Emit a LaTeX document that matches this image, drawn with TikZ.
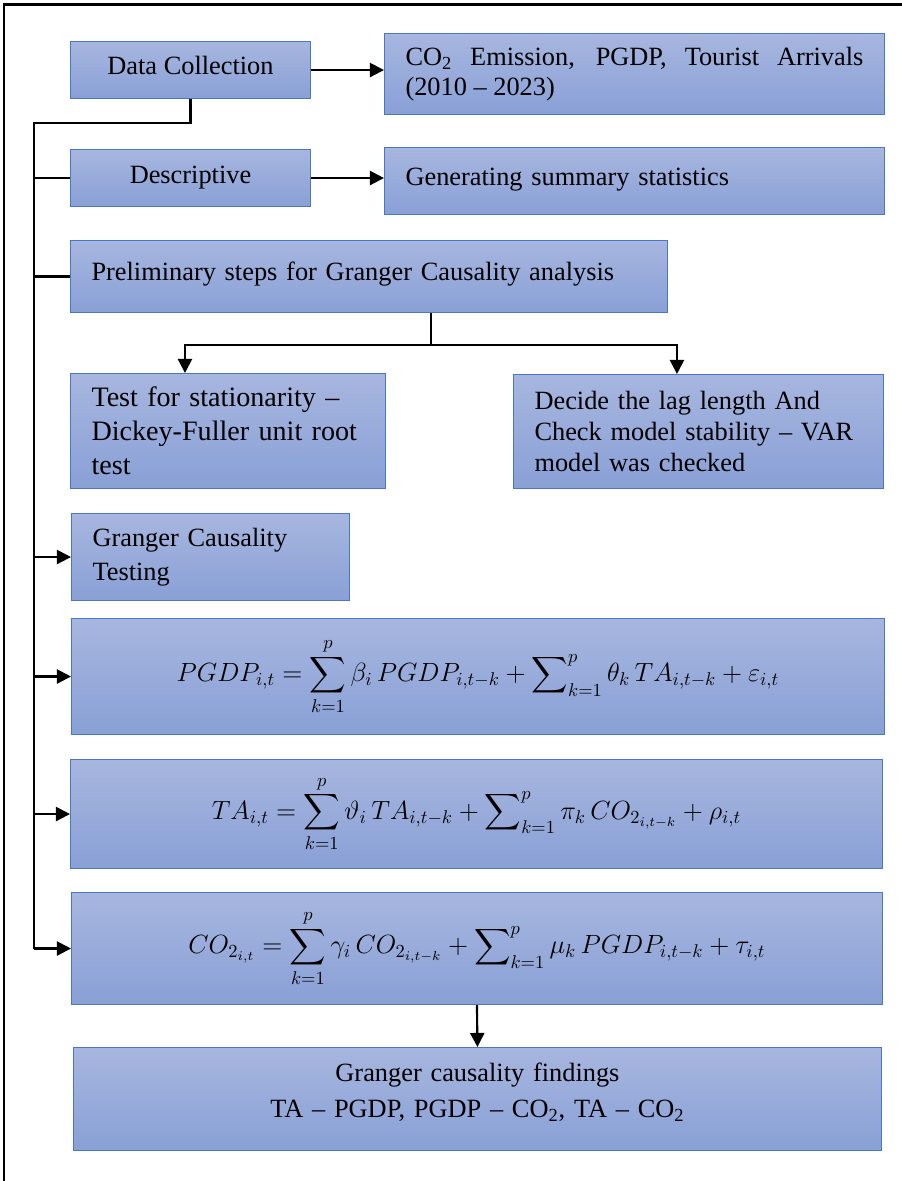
\documentclass[tikz,border=0pt]{standalone}
\usepackage{fix-cm}
\usepackage{amsmath}
\usepackage{fontspec}
\setmainfont{Liberation Serif}
\usepackage{tikz}
\usetikzlibrary{arrows.meta, positioning}

\definecolor{boxtop}{RGB}{167,182,223}
\definecolor{boxbot}{RGB}{137,160,214}
\definecolor{boxline}{RGB}{72,118,200}

\newcommand{\bigsum}{\mathop{\displaystyle\sum}\nolimits}

\begin{document}
\begin{tikzpicture} [x=0.02cm, y=-0.02cm,
    box/.style = {draw=boxline, line width=0.6pt, top color=boxtop, bottom color=boxbot,
                  anchor=north west, inner xsep=0.42cm, inner ysep=0pt,
                  font=\fontsize{15}{18}\selectfont},
    line/.style = {line width=1.2pt},
    arr/.style = {line width=1.2pt, -{Triangle[length=8pt, width=8pt]}}]
    \useasboundingbox (0,0) rectangle (902,1181);
    \draw [line width=1.7pt] (4,1181) -- (4,4) -- (902,4);

    \node (dc) [box, align=center, minimum width=4.8cm, minimum height=1.14cm] at (70,41) {Data Collection\\[-13pt]\mbox{}};
    \node (co2) [box, text width=9.16cm, align=justify, minimum height=1.62cm,
        font=\fontsize{15}{17}\selectfont] at (384,33)
        {CO\textsubscript{2} Emission, PGDP, Tourist Arrivals\linebreak (2010 – 2023)};
    \node (desc) [box, align=center, minimum width=4.8cm, minimum height=1.14cm] at (70,149) {Descriptive};
    \node (gen) [box, text width=9.16cm, align=left, minimum height=1.34cm] at (384,147)
        {Generating summary statistics\\[-13pt]\mbox{}};
    \node (prelim) [box, text width=11.1cm, align=left, minimum height=1.44cm] at (70,240)
        {Preliminary steps for Granger Causality analysis\\[-12pt]\mbox{}};
    \node (stat) [box, text width=5.46cm, align=left, minimum height=2.3cm,
        font=\fontsize{16}{19.3}\selectfont] at (70,373)
        {Test for stationarity –\\ Dickey-Fuller unit root\\ test};
    \node (lag) [box, text width=6.56cm, align=left, minimum height=2.28cm,
        font=\fontsize{15}{17.4}\selectfont] at (513,374)
        {Decide the lag length And\\ Check model stability – VAR\\ model was checked};
    \node (gct) [box, text width=4.72cm, align=left, minimum height=1.74cm,
        font=\fontsize{15}{19.3}\selectfont] at (71,513) {Granger Causality\\ Testing};

    \node (eqa) [box, align=center, minimum width=16.26cm, minimum height=2.32cm] at (71,618)
        {$\displaystyle PGDP_{i,t} = \sum_{k=1}^{p} \beta_i\, PGDP_{i,t-k} + \bigsum_{k=1}^{p} \theta_k\, TA_{i,t-k} + \varepsilon_{i,t}$};
    \node (eqb) [box, align=center, minimum width=16.24cm, minimum height=2.18cm] at (70,759)
        {$\displaystyle TA_{i,t} = \sum_{k=1}^{p} \vartheta_i\, TA_{i,t-k} + \bigsum_{k=1}^{p} \pi_k\, CO_{2_{i,t-k}} + \rho_{i,t}$};
    \node (eqc) [box, align=center, minimum width=16.22cm, minimum height=2.24cm] at (71,892)
        {$\displaystyle CO_{2_{i,t}} = \sum_{k=1}^{p} \gamma_i\, CO_{2_{i,t-k}} + \bigsum_{k=1}^{p} \mu_k\, PGDP_{i,t-k} + \tau_{i,t}$};
    \node (find) [box, text width=15.32cm, align=center, minimum height=2.06cm,
        font=\fontsize{15}{20}\selectfont] at (73,1047)
        {Granger causality findings\\ TA – PGDP, PGDP – CO\textsubscript{2}, TA – CO\textsubscript{2}\\[-10pt]\mbox{}};

    \coordinate (ttop) at (34,123);
    \coordinate (split) at (431,345);

    \draw [line] (dc.south) |- (ttop) -- (ttop |- eqc.west);
    \draw [line] (ttop |- desc.west) -- (desc.west);
    \draw [line] (ttop |- prelim.west) -- (prelim.west);
    \draw [arr] (ttop |- gct.west) -- (gct.west);
    \draw [arr] (ttop |- eqa.west) -- (eqa.west);
    \draw [arr] (ttop |- eqb.west) -- (eqb.west);
    \draw [arr] (ttop |- eqc.west) -- (eqc.west);

    \draw [arr] (dc.east) -- (dc.east -| co2.west);
    \draw [arr] (desc.east) -- (desc.east -| gen.west);
    \draw [line] (prelim.south -| split) -- (split);
    \draw [arr] (split) -| ([xshift=2.3cm]stat.north west);
    \draw [arr] (split) -| ([xshift=3.28cm]lag.north west);
    \draw [arr] (eqc.south) -- (find.north);
\end{tikzpicture}
\end{document}
